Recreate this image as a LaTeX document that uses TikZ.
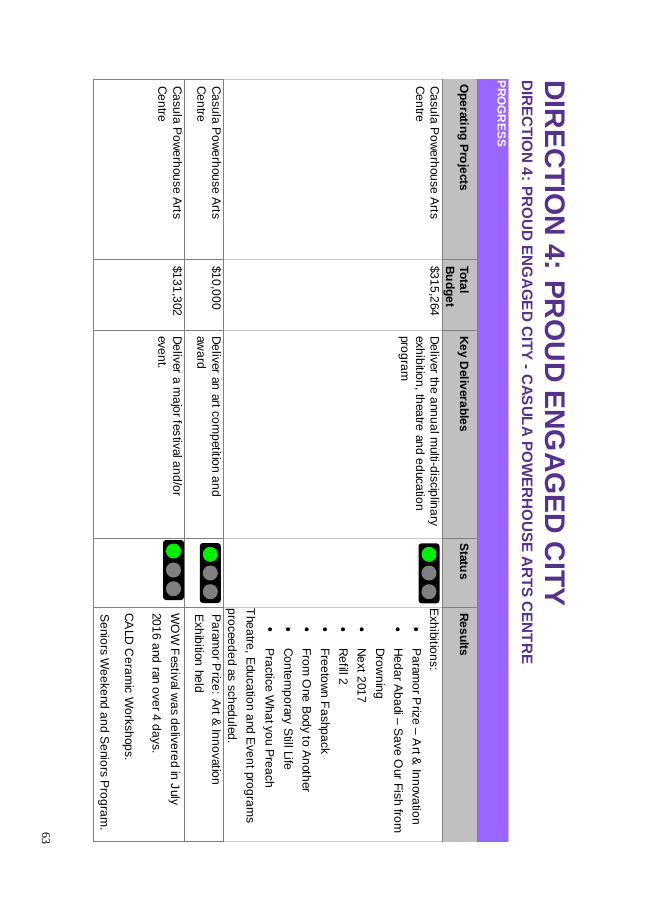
\documentclass[tikz,border=0pt]{standalone}
\usepackage{fontspec}
\setmainfont{Liberation Sans}
\newfontfamily\pagefont{Liberation Serif}
\definecolor{titlepurple}{HTML}{54308F}
\definecolor{bandpurple}{HTML}{9966FF}
\definecolor{headgray}{HTML}{C0C0C0}
\definecolor{darkline}{HTML}{808080}
\definecolor{lightline}{HTML}{C8C8C8}
\definecolor{lampgray}{HTML}{808080}
\definecolor{lampgreen}{HTML}{00F000}
\tikzset{
  celltext/.style={rotate=-90, anchor=base west, inner sep=0pt, font=\fontsize{12.1}{14.8}\selectfont},
  headtext/.style={celltext, font=\fontsize{12}{14}\selectfont\bfseries},
  bullet/.style={circle, fill, inner sep=0pt, minimum size=4pt},
  lampcase/.style={rectangle, fill=black, rounded corners=3pt, inner sep=0pt, minimum width=60pt, minimum height=21pt, rotate=-90},
  lamp/.style={circle, inner sep=0pt, minimum size=15pt},
}
\begin{document}
\begin{tikzpicture}[x=1pt, y=-1pt]
\useasboundingbox (0,0) rectangle (653,924);
\fill[bandpurple] (477,79) rectangle (508,841.5);
\fill[headgray] (442.3,79) rectangle (477,841.5);
\draw[lightline, line width=0.8pt] (223.5,79) -- (442.3,79);
\draw[lightline, line width=0.8pt] (223.5,841.5) -- (442.3,841.5);
\draw[lightline, line width=0.8pt] (223.5,259.5) -- (442.3,259.5);
\draw[lightline, line width=0.8pt] (223.5,330) -- (442.3,330);
\draw[lightline, line width=0.8pt] (223.5,538) -- (442.3,538);
\draw[lightline, line width=0.8pt] (223.5,607.5) -- (442.3,607.5);
\draw[bandpurple!50!white, line width=0.8pt] (508,79) -- (508,841.5);
\draw[darkline!70!white, line width=0.8pt] (223.5,79) -- (223.5,841.5);
\draw[darkline, line width=0.8pt] (93.5,79) rectangle (223.5,841.5);
\draw[darkline, line width=0.8pt] (184.7,79) -- (184.7,841.5);
\draw[darkline, line width=0.8pt] (93.5,259.5) -- (223.5,259.5);
\draw[darkline, line width=0.8pt] (93.5,330) -- (223.5,330);
\draw[darkline, line width=0.8pt] (93.5,538) -- (223.5,538);
\draw[darkline, line width=0.8pt] (93.5,607.5) -- (223.5,607.5);
\draw[darkline, line width=1pt] (442.3,79) -- (442.3,841.5);
\draw[darkline, line width=1pt] (477,79) -- (477,841.5);
\draw[darkline, line width=1pt] (442.3,259.5) -- (477,259.5);
\draw[darkline, line width=1pt] (442.3,330) -- (477,330);
\draw[darkline, line width=1pt] (442.3,538) -- (477,538);
\draw[darkline, line width=1pt] (442.3,607.5) -- (477,607.5);
\node[rotate=-90, anchor=base west, inner sep=0pt, text=titlepurple, font=\fontsize{28.4}{30}\selectfont\bfseries] (title) at (545,80) {DIRECTION 4: PROUD ENGAGED CITY};
\node[rotate=-90, anchor=base west, inner sep=0pt, text=titlepurple, font=\fontsize{15.13}{17}\selectfont\bfseries] (subtitle) at (522,80) {DIRECTION 4: PROUD ENGAGED CITY - CASULA POWERHOUSE ARTS CENTRE};
\node[rotate=-90, anchor=base west, inner sep=0pt, text=white, font=\fontsize{11.8}{14}\selectfont\bfseries] (progress) at (497.5,80) {PROGRESS};
\node[headtext] (hd0) at (460,84) {Operating Projects};
\node[headtext] (hd1) at (460,266) {Total};
\node[headtext] (hd1b) at (446,266) {Budget};
\node[headtext] (hd2) at (460,336) {Key Deliverables};
\node[headtext] (hd3) at (460,543) {Status};
\node[headtext] (hd4) at (460,613) {Results};
\node[celltext] (prj0) at (430.7,86) {Casula Powerhouse Arts};
\node[celltext] (prj0b) at (416,86) {Centre};
\node[celltext] (bud0) at (430.7,266) {\$315,264};
\node[celltext] (del0) at (430.7,336) {Deliver the annual multi-disciplinary};
\node[celltext] (del0b) at (416,336) {exhibition, theatre and education};
\node[celltext] (del0c) at (401,336) {program};
\node[lampcase] (case0) at (429,573.3) {};
\node[lamp, fill=lampgreen] (lamp0a) at (429,554.3) {};
\node[lamp, fill=lampgray] (lamp0b) at (429,573) {};
\node[lamp, fill=lampgray] (lamp0c) at (429,591.7) {};
\node[celltext] (res0) at (430,608.5) {Exhibitions:};
\node[bullet] (bul0) at (416,629.3) {};
\node[celltext] (res1) at (412.7,648) {Paramor Prize – Art \& Innovation};
\node[bullet] (bul1) at (397.7,629.3) {};
\node[celltext] (res2) at (394.3,648) {Hedar Abadi – Save Our Fish from};
\node[celltext] (res2b) at (376,648) {Drowning};
\node[bullet] (bul3) at (361.7,629.3) {};
\node[celltext] (res3) at (357.7,648) {Next 2017};
\node[bullet] (bul4) at (343,629.3) {};
\node[celltext] (res4) at (339.3,648) {Refill 2};
\node[bullet] (bul5) at (325,629.3) {};
\node[celltext] (res5) at (321,648) {Freetown Fashpack};
\node[bullet] (bul6) at (306.7,629.3) {};
\node[celltext] (res6) at (302.7,648) {From One Body to Another};
\node[bullet] (bul7) at (288,629.3) {};
\node[celltext] (res7) at (284.3,648) {Contemporary Still Life};
\node[bullet] (bul8) at (270,629.3) {};
\node[celltext] (res8) at (265.7,648) {Practice What you Preach};
\node[celltext] (res9) at (246.7,608.5) {Theatre, Education and Event programs};
\node[celltext] (res9b) at (228,608.5) {proceeded as scheduled.};
\node[celltext] (prj1) at (212.3,86) {Casula Powerhouse Arts};
\node[celltext] (prj1b) at (197.3,86) {Centre};
\node[celltext] (bud1) at (212.3,266) {\$10,000};
\node[celltext] (del1) at (212.3,336) {Deliver an art competition and};
\node[celltext] (del1b) at (197.3,336) {award};
\node[lampcase] (case1) at (210.3,573) {};
\node[lamp, fill=lampgreen] (lamp1a) at (210.3,554.3) {};
\node[lamp, fill=lampgray] (lamp1b) at (210.3,573) {};
\node[lamp, fill=lampgray] (lamp1c) at (210.3,591.7) {};
\node[celltext] (res10) at (212.3,614) {Paramor Prize: Art \& Innovation};
\node[celltext] (res10b) at (195,614) {Exhibition held};
\node[celltext] (prj2) at (173.3,86) {Casula Powerhouse Arts};
\node[celltext] (prj2b) at (158.3,86) {Centre};
\node[celltext] (bud2) at (173.3,266) {\$131,302};
\node[celltext] (del2) at (173.3,336) {Deliver a major festival and/or};
\node[celltext] (del2b) at (158.3,336) {event.};
\node[lampcase] (case2) at (173.5,570) {};
\node[lamp, fill=lampgreen] (lamp2a) at (173.5,551) {};
\node[lamp, fill=lampgray] (lamp2b) at (173.5,570) {};
\node[lamp, fill=lampgray] (lamp2c) at (173.5,588.7) {};
\node[celltext] (res11) at (171,613) {WOW Festival was delivered in July};
\node[celltext] (res11b) at (152.7,613) {2016 and ran over 4 days.};
\node[celltext] (res12) at (125,613) {CALD Ceramic Workshops.};
\node[celltext] (res13) at (100.7,614) {Seniors Weekend and Seniors Program.};
\node[rotate=-90, anchor=base west, inner sep=0pt, font=\pagefont\fontsize{12}{14}\selectfont] (pagenum) at (42,832) {63};
\end{tikzpicture}
\end{document}
